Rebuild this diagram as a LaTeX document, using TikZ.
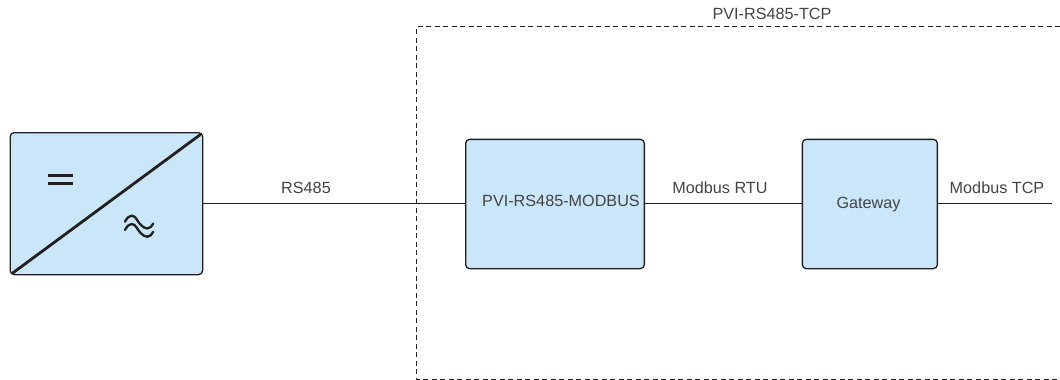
\documentclass[tikz,border=0pt]{standalone}
\usepackage{fontspec}
\setmainfont{Liberation Sans}
\definecolor{boxfill}{HTML}{C9E7F8}
\definecolor{ink}{HTML}{231F20}
\definecolor{txt}{HTML}{444446}
\tikzset{
  unitbox/.style={draw=ink,fill=boxfill,line width=1.3pt,rounded corners=4pt,inner sep=0pt,anchor=north west},
  wire/.style={draw=ink,line width=0.9pt},
  lbl/.style={text=txt,font=\fontsize{16.2}{18}\selectfont,inner sep=0pt,anchor=base},
  glyph/.style={draw=ink,line cap=butt},
  frame/.style={draw=ink,line width=0.85pt,dash pattern=on 5pt off 3.5pt}
}
\begin{document}
\begin{tikzpicture}[x=1pt,y=-1pt]
\useasboundingbox (0,0) rectangle (1060,380);
% dashed frame (open at right edge)
\draw[frame] (1060,26.7) -- (416.3,26.7) -- (416.3,379) -- (1060,379);
\node[lbl] (title) at (772,19.5) {PVI-RS485-TCP};
% boxes
\node[unitbox,minimum width=192.5pt,minimum height=142pt] (inv) at (9.5,132) {};
\node[unitbox,minimum width=178.7pt,minimum height=129.3pt] (mod) at (465,138.7) {};
\node[unitbox,minimum width=135pt,minimum height=129.3pt] (gw) at (801.7,138.7) {};
\node[lbl] (modt) at (561,206.5) {PVI-RS485-MODBUS};
\node[lbl] (gwt) at (868.5,208) {Gateway};
% inverter symbol
\draw[draw=ink,line width=2.8pt,line cap=round] ([shift={(3.5,-2.5)}]inv.south west) -- ([shift={(-3.5,3)}]inv.north east);
\draw[glyph,line width=3.4pt] (47.7,175.3) -- (73,175.3) (47.7,183.6) -- (73,183.6);
\draw[glyph,line width=2.3pt,line cap=round] (125,221.7) .. controls (127,218) and (129,215.7) .. (131.5,215.7) .. controls (136,215.7) and (137,221) .. (140,224) .. controls (143,227) and (145,228.5) .. (147.3,228.5) .. controls (150,228.5) and (152,226) .. (153.3,223.5);
\draw[glyph,line width=2.3pt,line cap=round] (125,230) .. controls (127,226.3) and (129,224) .. (131.5,224) .. controls (136,224) and (137,229.3) .. (140,232.3) .. controls (143,235.3) and (145,236.8) .. (147.3,236.8) .. controls (150,236.8) and (152,234.3) .. (153.3,231.8);
% connectors
\coordinate (tcpend) at (1051.7,203);
\draw[wire] (inv.east |- 0,203) -- (mod.west |- 0,203);
\draw[wire] (mod.east |- 0,203) -- (gw.west |- 0,203);
\draw[wire] (gw.east |- 0,203) -- (tcpend);
% labels
\node[lbl] (rs) at (306,193) {RS485};
\node[lbl] (rtu) at (720,193) {Modbus RTU};
\node[lbl] (tcp) at (997,193) {Modbus TCP};
\end{tikzpicture}
\end{document}
